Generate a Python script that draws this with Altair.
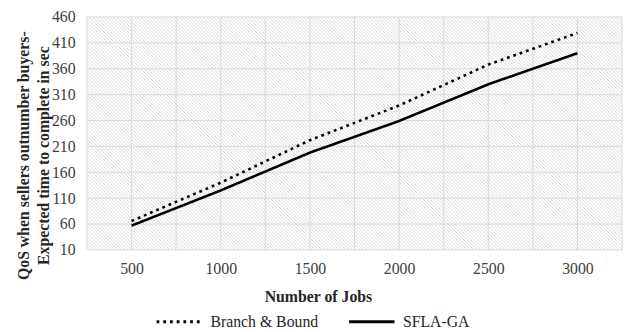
import altair as alt
import pandas as pd

jobs = [500, 1000, 1500, 2000, 2500, 3000]
branch_bound = [66, 140, 222, 289, 368, 429]
sfla_ga = [57, 125, 198, 259, 330, 390]
series_names = ["Branch & Bound", "SFLA-GA"]
y_ticks = list(range(10, 461, 50))
x_grid = list(range(250, 3251, 250))
x_domain = [250, 3250]
y_domain = [10, 460]

rows = []
for j, b, s in zip(jobs, branch_bound, sfla_ga):
    rows.append({"Jobs": j, "Value": b, "Series": series_names[0]})
    rows.append({"Jobs": j, "Value": s, "Series": series_names[1]})
df = pd.DataFrame(rows)

W, H = 542, 236
FONT = "Liberation Serif"

# background hatch: thin diagonal strokes (top-left to bottom-right), built in data units
kx = (x_domain[1] - x_domain[0]) / W
ky = (y_domain[1] - y_domain[0]) / H
spacing = 3.5
hatch_rows = []
c = -H
while c < W:
    xa = max(0.0, c)
    xb = min(float(W), c + H)
    if xb > xa:
        hatch_rows.append({
            "hx": x_domain[0] + xa * kx, "hy": y_domain[1] - (xa - c) * ky,
            "hx2": x_domain[0] + xb * kx, "hy2": y_domain[1] - (xb - c) * ky,
        })
    c += spacing
hatch_df = pd.DataFrame(hatch_rows)

x_scale = alt.Scale(domain=x_domain, nice=False, zero=False)
y_scale = alt.Scale(domain=y_domain, nice=False, zero=False)

x_axis = alt.Axis(values=x_grid, title="Number of Jobs", grid=False,
                  labelExpr="(datum.value % 500 == 0 && datum.value >= 500 && datum.value <= 3000) ? format(datum.value, 'd') : ''",
                  ticks=False, domain=False, labelPadding=11,
                  labelOverlap=False, labelBound=False, labelFlush=False,
                  titleX=234, titleY=39, titleAnchor="start", titleAlign="center",
                  titleBaseline="top")
y_axis = alt.Axis(values=y_ticks, format="d", grid=False,
                  title=["QoS when sellers outnumber buyers-", "Expected time to complete in sec"],
                  ticks=False, domain=False, labelPadding=12,
                  titleLineHeight=20, titlePadding=0, titleY=140, titleAnchor="start",
                  titleAlign="center")

hatch = alt.Chart(hatch_df).mark_rule(color="#d3d3d3", strokeWidth=0.9, clip=True).encode(
    x=alt.X("hx:Q", scale=x_scale, axis=x_axis), x2="hx2:Q",
    y=alt.Y("hy:Q", scale=y_scale, axis=y_axis), y2="hy2:Q",
)

vgrid = alt.Chart(pd.DataFrame({"g": x_grid})).mark_rule(color="#d9d9d9", strokeWidth=1).encode(
    x=alt.X("g:Q", scale=x_scale, axis=x_axis)
)
hgrid = alt.Chart(pd.DataFrame({"g": y_ticks})).mark_rule(color="#d9d9d9", strokeWidth=1).encode(
    y=alt.Y("g:Q", scale=y_scale, axis=y_axis)
)

lines = alt.Chart(df).mark_line(color="black", strokeWidth=2.6).encode(
    x=alt.X("Jobs:Q", scale=x_scale, axis=x_axis),
    y=alt.Y("Value:Q", scale=y_scale, axis=y_axis),
    strokeDash=alt.StrokeDash("Series:N",
                              scale=alt.Scale(domain=series_names, range=[[2.8, 4], [1, 0]]),
                              legend=alt.Legend(title=None, orient="none", direction="horizontal",
                                                legendX=69, legendY=284,
                                                symbolType="stroke", symbolSize=2116,
                                                symbolStrokeWidth=3, symbolStrokeColor="black",
                                                labelFont=FONT, labelFontSize=16, labelColor="#262626",
                                                labelOffset=7, columnPadding=24, padding=0)),
)

chart = alt.layer(hatch, vgrid, hgrid, lines).properties(
    width=W, height=H,
    autosize=alt.AutoSizeParams(type="none"),
    padding={"left": 80, "top": 7, "right": 3, "bottom": 80},
).configure_view(
    stroke=None,
).configure_axis(
    labelFont=FONT, labelFontSize=16, labelColor="#404040",
    titleFont=FONT, titleFontSize=16, titleFontWeight="bold", titleColor="#262626",
)

chart.save("out.html", embed_options={"renderer": "svg", "actions": False})
